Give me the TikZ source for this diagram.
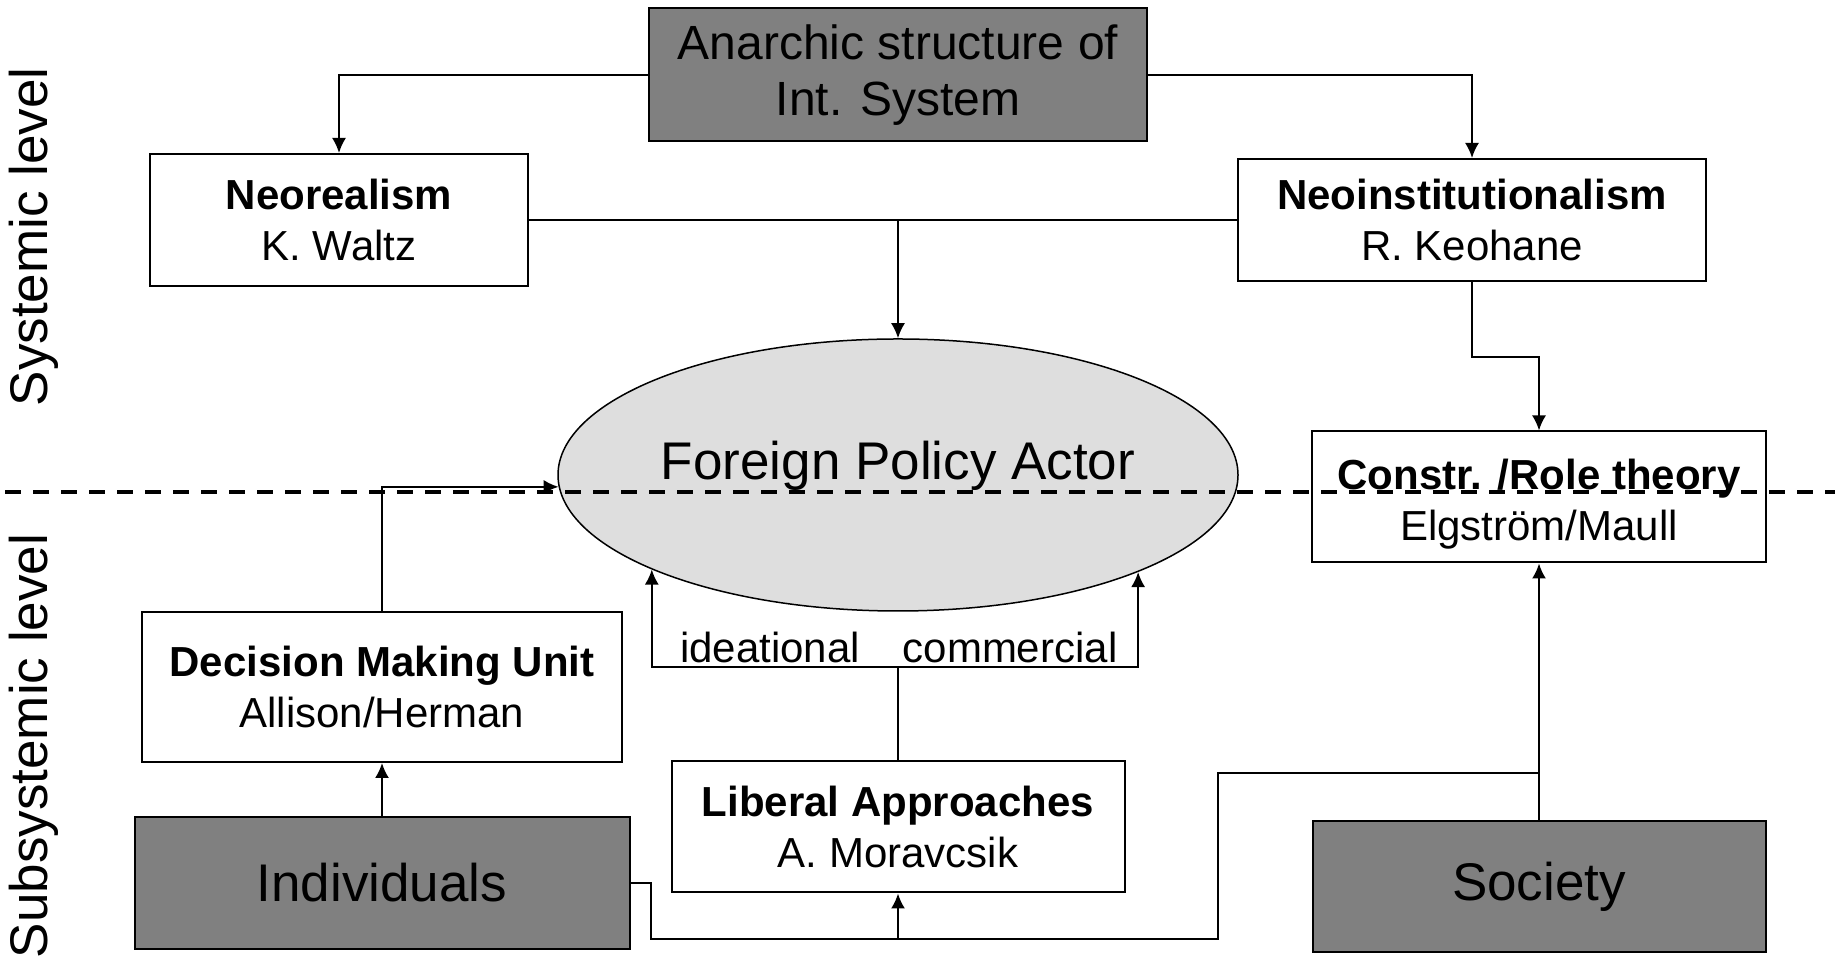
\documentclass[tikz,border=0pt]{standalone}
\usepackage{fontspec}
\setmainfont{Liberation Sans}
\usepackage{tikz}
\usetikzlibrary{shapes.geometric}
\usetikzlibrary{arrows.meta}
\newcommand{\bigtxt}{\fontsize{26.5}{31}\selectfont}
\newcommand{\midtxt}{\fontsize{24}{28}\selectfont}
\newcommand{\smalltxt}{\fontsize{21}{25.5}\selectfont}
\tikzset{every picture/.style={line width=1pt},
  theory/.style={draw, line width=1pt, fill=white, align=center, font=\smalltxt},
  source/.style={draw, line width=1pt, fill=black!50, align=center},
  conn/.style={-{Latex[length=7.5pt,width=7pt]}},
  divider/.style={line width=2pt, dash pattern=on 8pt off 6pt, dash phase=11.5pt}}

\begin{document}
\begin{tikzpicture}[x=50pt,y=50pt]
\useasboundingbox (0,0) rectangle (18.35,9.57);

\node (anarchic) [source, font=\midtxt, minimum width=249pt, minimum height=66.5pt] at (8.98,8.82) {Anarchic structure of\\Int. System};
\node (neoreal) [theory, minimum width=189pt, minimum height=66pt] at (3.39,7.37) {\textbf{Neorealism}\\K. Waltz};
\node (neoinst) [theory, minimum width=234pt, minimum height=61pt] at (14.72,7.37) {\textbf{Neoinstitutionalism}\\R. Keohane};
\node (actor) [ellipse, draw, line width=0.75pt, fill=black!13, minimum width=340pt, minimum height=136pt, inner sep=0pt,
  label={[font=\bigtxt, yshift=4.5pt]center:Foreign Policy Actor}] at (8.98,4.82) {};
\node (constr) [theory, minimum width=227pt, minimum height=65.5pt] at (15.39,4.60) {\rule{0pt}{22pt}\textbf{Constr. /Role theory}\\Elgstr\"om/Maull};
\node (dmu) [theory, minimum width=240pt, minimum height=75pt] at (3.82,2.70) {\textbf{Decision Making Unit}\\Allison/Herman};
\node (liberal) [theory, minimum width=226.5pt, minimum height=65.5pt] at (8.98,1.30) {\textbf{Liberal Approaches}\\A. Moravcsik};
\node (indiv) [source, font=\bigtxt, minimum width=247.5pt, minimum height=66pt] at (3.82,0.74) {Individuals};
\node (society) [source, font=\bigtxt, minimum width=226.5pt, minimum height=65.5pt] at (15.39,0.70) {Society};

\node (syslvl) [rotate=90, font=\bigtxt] at (0.335,7.20) {Systemic level};
\node (subsyslvl) [rotate=90, font=\bigtxt] at (0.335,2.11) {Subsystemic level};

\coordinate (fork) at (8.98,2.90);
\coordinate (merge) at (8.98,0.18);
\coordinate (socjoin) at (15.39,1.84);

\draw[conn] (anarchic.west) -| (neoreal.north);
\draw[conn] (anarchic.east) -| (neoinst.north);
\draw (neoreal.east) -- (neoinst.west);
\draw[conn] (actor.north |- neoreal.east) -- (actor.north);
\draw[conn] (neoinst.south) -- ++(0,-0.75) -| (constr.north);

\draw[conn] (indiv.north) -- (dmu.south);
\draw[conn] (dmu.north) |- (actor.182.9);

\draw (liberal.north) -- (fork);
\draw[conn] (fork) -| (actor.201.7);
\draw[conn] (fork) -| (actor.338.3);
\node (ideat) [anchor=base, font=\smalltxt] at (7.70,2.94) {ideational};
\node (commerc) [anchor=base, font=\smalltxt] at (10.10,2.94) {commercial};

\draw (indiv.east) -- ++(0.2,0) |- (merge);
\draw[conn] (society.north) -- (constr.south);
\draw (socjoin) -- ++(-3.21,0) |- (merge);
\draw[conn] (merge) -- (liberal.south);

\draw[divider] (0,4.65) -- (18.35,4.65);
\end{tikzpicture}
\end{document}
